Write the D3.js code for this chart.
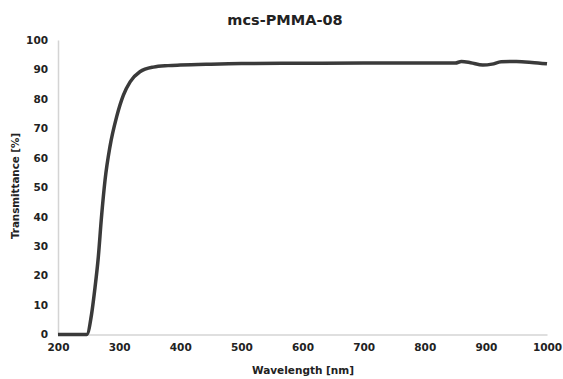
<!DOCTYPE html>
<html>
<head>
<meta charset="utf-8">
<script src="https://cdn.jsdelivr.net/npm/d3@7"></script>
<style>
  body { margin: 0; background: #fff; }
  text { font-family: "DejaVu Sans", sans-serif; font-weight: bold; fill: #222; }
</style>
</head>
<body>
<div id="app"></div>
<script>
// transmittance spectrum
const wavelength = [200, 247, 255, 260, 266, 271, 277, 285, 296, 307, 318, 334, 356, 380, 400, 450, 500, 600, 700, 800, 850, 860, 875, 895, 910, 925, 950, 975, 1000];
const transmittance = [0, 0, 7, 15, 26.4, 39.5, 52.5, 63.8, 74, 81.3, 85.8, 89.2, 90.8, 91.3, 91.5, 91.8, 92, 92.1, 92.2, 92.2, 92.2, 92.7, 92.3, 91.5, 91.8, 92.6, 92.7, 92.4, 91.9];
const xTicks = [200, 300, 400, 500, 600, 700, 800, 900, 1000];
const yTicks = [0, 10, 20, 30, 40, 50, 60, 70, 80, 90, 100];

const width = 563, height = 379;
const margin = {top: 40, right: 16, bottom: 44.5, left: 58};

const svg = d3.select("#app").append("svg")
    .attr("width", width)
    .attr("height", height);

const x = d3.scaleLinear().domain([200, 1000]).range([margin.left, width - margin.right]);
const y = d3.scaleLinear().domain([0, 100]).range([height - margin.bottom, margin.top]);

// axes: light lines, no ticks
const xAxis = svg.append("g")
    .attr("transform", `translate(0,${y(0)})`)
    .call(d3.axisBottom(x).tickValues(xTicks).tickFormat(d3.format("d")).tickSize(0).tickPadding(9));
xAxis.select(".domain").attr("stroke", "#d4d4d4").attr("stroke-width", 1.5);
xAxis.selectAll("text").attr("font-size", 10.5).attr("fill", "#222");

const yAxis = svg.append("g")
    .attr("transform", `translate(${x(200)},0)`)
    .call(d3.axisLeft(y).tickValues(yTicks).tickSize(0).tickPadding(10));
yAxis.select(".domain").attr("stroke", "#d4d4d4").attr("stroke-width", 1.5);
yAxis.selectAll("text").attr("font-size", 10.5).attr("fill", "#222");

// the curve
const points = wavelength.map((w, i) => [w, transmittance[i]]);
const line = d3.line()
    .x(d => x(d[0]))
    .y(d => y(d[1]))
    .curve(d3.curveMonotoneX);

svg.append("path")
    .datum(points)
    .attr("fill", "none")
    .attr("stroke", "#3a3a3a")
    .attr("stroke-width", 3.5)
    .attr("stroke-linejoin", "round")
    .attr("d", line);

// titles
svg.append("text")
    .attr("x", 285).attr("y", 25)
    .attr("text-anchor", "middle")
    .attr("font-size", 14.5)
    .text("mcs-PMMA-08");

svg.append("text")
    .attr("x", 303).attr("y", 374)
    .attr("text-anchor", "middle")
    .attr("font-size", 10.5)
    .text("Wavelength [nm]");

svg.append("text")
    .attr("transform", "translate(19,186) rotate(-90)")
    .attr("text-anchor", "middle")
    .attr("font-size", 10.3)
    .text("Transmittance [%]");
</script>
</body>
</html>
